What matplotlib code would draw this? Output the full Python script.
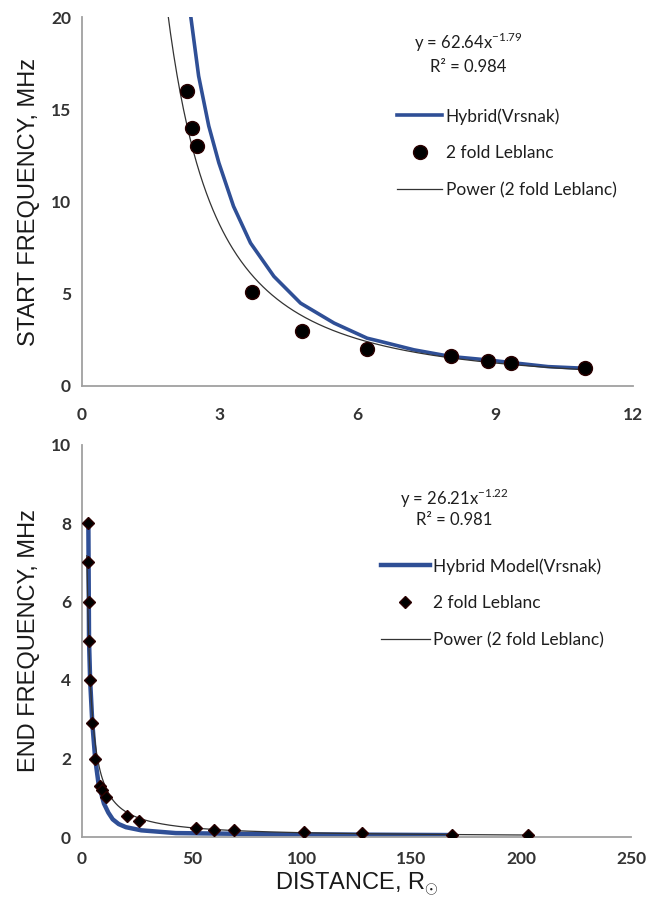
import numpy as np
import matplotlib
matplotlib.use("Agg")
import matplotlib.pyplot as plt

plt.rcParams['font.family'] = ['Lato', 'DejaVu Sans']
plt.rcParams['mathtext.fontset'] = 'custom'
plt.rcParams['mathtext.rm'] = 'Lato'

# --- start frequency panel ---
start_dist = [2.29, 2.40, 2.51, 3.71, 4.80, 6.20, 8.03, 8.84, 9.34, 10.96]
start_freq = [16.0, 14.0, 13.0, 5.1, 3.0, 2.0, 1.6, 1.35, 1.25, 1.0]

hyb1_x = [2.37, 2.54, 2.76, 2.98, 3.30, 3.67, 4.18, 4.76, 5.49, 6.21, 6.51,
          7.23, 8.03, 8.84, 10.15, 10.95]
hyb1_y = [20.0, 16.8, 14.1, 12.1, 9.74, 7.75, 5.94, 4.49, 3.41, 2.59, 2.41,
          1.96, 1.6, 1.41, 1.05, 0.96]

start_xticks = [0, 3, 6, 9, 12]
start_yticks = [0, 5, 10, 15, 20]

# --- end frequency panel ---
end_dist = [2.9, 2.6, 3.2, 3.2, 3.7, 4.7, 6.0, 8.3, 9.0, 10.9, 20.5, 25.8,
            51.8, 60.2, 69.0, 101.0, 127.7, 168.6, 203.2]
end_freq = [8.0, 7.0, 6.0, 5.0, 4.0, 2.9, 2.0, 1.3, 1.2, 1.03, 0.54, 0.42,
            0.22, 0.18, 0.18, 0.12, 0.1, 0.06, 0.06]

hyb2_x = [2.9, 3.2, 3.7, 4.7, 6.0, 7.5, 10.0, 12.0, 14.0, 16.7, 20.0, 27.0,
          42.7, 88.5, 166.0]
hyb2_y = [8.0, 5.0, 4.0, 2.9, 2.0, 1.37, 0.85, 0.62, 0.45, 0.33, 0.25, 0.17,
          0.1, 0.07, 0.05]

end_xticks = [0, 50, 100, 150, 200, 250]
end_yticks = [0, 2, 4, 6, 8, 10]

blue = '#2f4f96'
axis_gray = '#a0a0a0'
tick_color = '#333333'


def power_trend(x, y, x0, x1):
    # excel style power trendline: least squares in log-log space
    b, ln_a = np.polyfit(np.log(x), np.log(y), 1)
    xs = np.linspace(x0, x1, 400)
    return xs, np.exp(ln_a) * xs ** b


def style_axes(ax, xt, yt, xpad):
    for s in ['top', 'right']:
        ax.spines[s].set_visible(False)
    for s in ['left', 'bottom']:
        ax.spines[s].set_color(axis_gray)
        ax.spines[s].set_linewidth(1.3)
    ax.set_xticks(xt, labels=[str(t) for t in xt], fontweight='bold')
    ax.set_yticks(yt, labels=[str(t) for t in yt], fontweight='bold')
    ax.tick_params(length=0, labelsize=12.5, colors=tick_color, pad=8)
    ax.tick_params(axis='x', pad=xpad)


fig = plt.figure(figsize=(6.59, 8.99), dpi=100)
leg_kw = dict(bbox_transform=fig.transFigure, frameon=False,
              prop={'size': 12.5},
              labelspacing=1.2, handletextpad=0.2,
              borderpad=0, borderaxespad=0, labelcolor='#1e1e1e')
note_kw = dict(ha='center', va='center', fontsize=12, color='#1e1e1e')

# top panel
ax1 = fig.add_axes([82 / 659, 1 - 386 / 899, 551 / 659, 369 / 899])
tx, ty = power_trend(start_dist, start_freq, 1.5, 10.96)
ax1.plot(hyb1_x, hyb1_y, color=blue, lw=2.6, label='Hybrid(Vrsnak)', zorder=2)
ax1.plot(start_dist, start_freq, 'o', color='black', ms=10, mec='#2a0000',
         label='2 fold Leblanc', zorder=3)
ax1.plot(tx, ty, color='#333333', lw=0.9, label='Power (2 fold Leblanc)', zorder=2)
ax1.set_xlim(0, 12)
ax1.set_ylim(0, 20)
style_axes(ax1, start_xticks, start_yticks, 15)
ax1.set_ylabel('START FREQUENCY, MHz', family='Liberation Sans', fontsize=17,
               color='#1a1a1a', labelpad=8)
fig.text(468 / 659, 1 - 42 / 899, 'y = 62.64x$^{-1.79}$', **note_kw)
fig.text(468 / 659, 1 - 67 / 899, 'R² = 0.984', **note_kw)
ax1.legend(loc='upper left', bbox_to_anchor=(397 / 659, 1 - 108 / 899),
           handlelength=2.6, **leg_kw)

# bottom panel
ax2 = fig.add_axes([82 / 659, 1 - 837 / 899, 549 / 659, 392.5 / 899])
tx2, ty2 = power_trend(end_dist, end_freq, 2.2, 203.2)
ax2.plot(hyb2_x, hyb2_y, color=blue, lw=3.2, label='Hybrid Model(Vrsnak)', zorder=2)
ax2.plot(end_dist, end_freq, 'D', color='black', ms=6, mec='#2a0000',
         label='2 fold Leblanc', zorder=3)
ax2.plot(tx2, ty2, color='#333333', lw=0.9, label='Power (2 fold Leblanc)', zorder=2)
ax2.set_xlim(0, 250)
ax2.set_ylim(0, 10)
style_axes(ax2, end_xticks, end_yticks, 10)
ax2.set_ylabel('END FREQUENCY, MHz', family='Liberation Sans', fontsize=17,
               color='#1a1a1a', labelpad=8)
ax2.set_xlabel('DISTANCE, R$_{\\odot}$', family='Liberation Sans', fontsize=17,
               color='#1a1a1a', labelpad=3)
fig.text(454 / 659, 1 - 498 / 899, 'y = 26.21x$^{-1.22}$', **note_kw)
fig.text(454 / 659, 1 - 520 / 899, 'R² = 0.981', **note_kw)
ax2.legend(loc='upper left', bbox_to_anchor=(381 / 659, 1 - 558 / 899),
           handlelength=2.8, **leg_kw)

fig.savefig('out.png', dpi=100)
